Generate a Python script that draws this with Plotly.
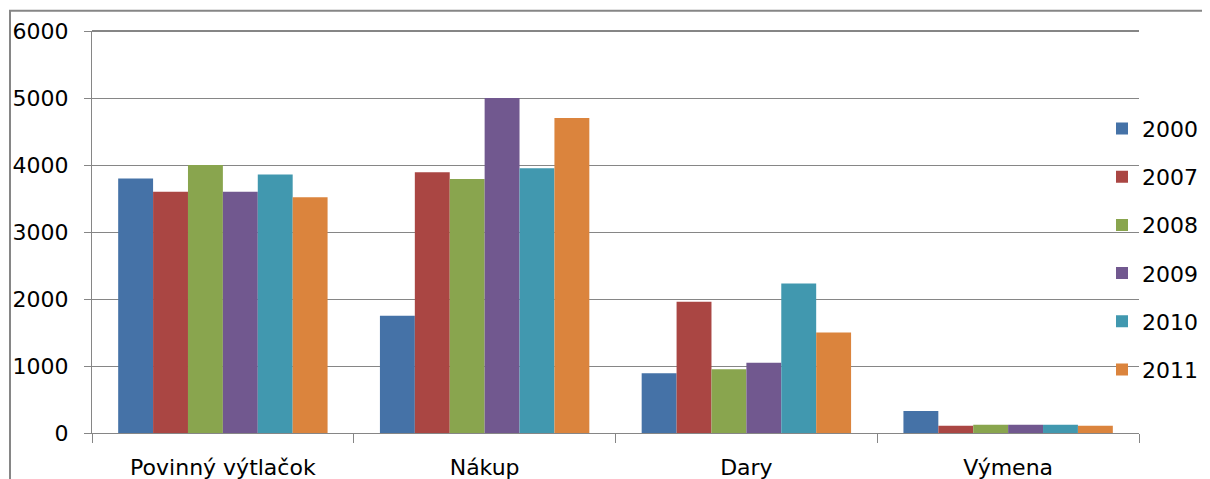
import plotly.graph_objects as go

categories = ["Povinný výtlačok", "Nákup", "Dary", "Výmena"]
years = ["2000", "2007", "2008", "2009", "2010", "2011"]
v2000 = [3800, 1750, 890, 330]
v2007 = [3600, 3890, 1960, 110]
v2008 = [4000, 3790, 950, 125]
v2009 = [3600, 5000, 1050, 125]
v2010 = [3860, 3950, 2230, 125]
v2011 = [3520, 4700, 1500, 110]
series = [v2000, v2007, v2008, v2009, v2010, v2011]
colors = ["#4572A7", "#AA4643", "#89A54E", "#71588F", "#4198AF", "#DB843D"]

FONT = "DejaVu Sans"
FS = 22
GRID = "#868686"

fig = go.Figure()
for y, vals, c in zip(years, series, colors):
    fig.add_trace(go.Bar(name=y, x=categories, y=vals, marker=dict(color=c, line=dict(width=0)),
                         legendgroup=y))

OFF = 8  # page body margin
W, H = 1210 - OFF, 479 - OFF
L, R, T, B = 92 - OFF, 1139 - OFF, 31.3 - OFF, 433.3 - OFF
pw, ph = R - L, B - T

fig.update_layout(
    width=W, height=H,
    margin=dict(l=L, r=W - R, t=T, b=H - B, pad=0, autoexpand=False),
    paper_bgcolor="white", plot_bgcolor="white",
    barmode="group", bargap=0.2, bargroupgap=0,
    font=dict(family=FONT, size=FS, color="black"),
    showlegend=True,
    legend=dict(x=(1102 - OFF - L) / pw, y=(B - (108 - OFF)) / ph, xanchor="left", yanchor="top",
                bgcolor="rgba(0,0,0,0)", borderwidth=0, tracegroupgap=16.6,
                font=dict(family=FONT, size=FS, color="black"), itemwidth=30),
    xaxis=dict(type="category", showgrid=False, showline=True, linecolor=GRID, linewidth=1,
               ticks="outside", tickson="boundaries", ticklen=9, tickcolor=GRID, tickwidth=1,
               tickfont=dict(family=FONT, size=FS, color="black"), ticklabelstandoff=15),
    yaxis=dict(range=[0, 6000], dtick=1000, showgrid=True, gridcolor=GRID, gridwidth=1,
               showline=True, linecolor=GRID, linewidth=1, ticks="outside", ticklen=7,
               tickcolor=GRID, tickwidth=1, zeroline=False,
               tickfont=dict(family=FONT, size=FS, color="black"), ticklabelstandoff=11),
    shapes=[dict(type="rect", xref="paper", yref="paper",
                 x0=(10 - OFF - L) / pw, x1=(1300 - L) / pw, y0=(B - 560) / ph,
                 y1=(B - (11 - OFF)) / ph,
                 line=dict(color=GRID, width=2), fillcolor="rgba(0,0,0,0)", layer="below"),
            dict(type="line", xref="paper", yref="paper", x0=0, x1=1, y0=1, y1=1,
                 line=dict(color=GRID, width=2), layer="below")],
)

fig.write_html("out.html")
